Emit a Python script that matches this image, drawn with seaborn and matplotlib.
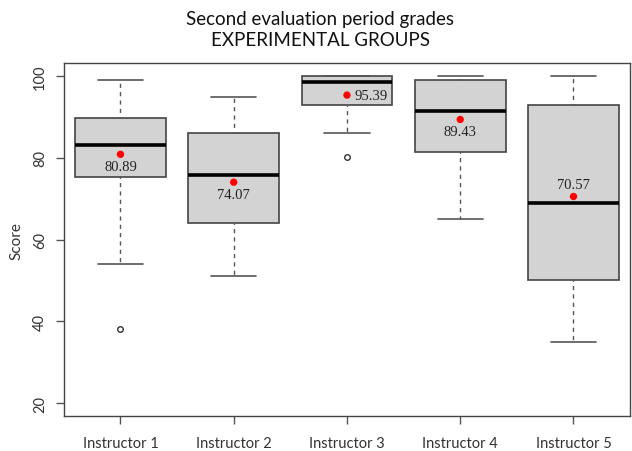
import numpy as np
import matplotlib
matplotlib.use("Agg")
from matplotlib import pyplot as plt
import seaborn as sns

# values
instructors = ["Instructor 1", "Instructor 2", "Instructor 3", "Instructor 4", "Instructor 5"]
whisker_low = [54, 51, 86, 65, 35]
q1 = [75.3, 64, 93, 81.5, 50.2]
medians = [83.2, 75.8, 98.7, 91.5, 69]
q3 = [89.9, 86.2, 100, 99, 93]
whisker_high = [99, 95, 100, 100, 100]
outliers = [[38.2], [], [80.2], [], []]
means = [80.89, 74.07, 95.39, 89.43, 70.57]

sns.set_style("white")
plt.rcParams["font.family"] = ["Lato", "DejaVu Sans"]

fig = plt.figure(figsize=(6.32, 4.52), dpi=100)
ax = fig.add_axes([0.101, 0.077, 0.896, 0.781])

stats = []
for i, name in enumerate(instructors):
    stats.append(dict(label=name, med=medians[i], q1=q1[i], q3=q3[i],
                      whislo=whisker_low[i], whishi=whisker_high[i],
                      fliers=outliers[i]))

pos = np.arange(1, len(instructors) + 1)
ax.bxp(stats, positions=pos, widths=0.8, patch_artist=True, showfliers=True,
       boxprops=dict(facecolor="#d3d3d3", edgecolor="#444444", linewidth=1.2),
       medianprops=dict(color="black", linewidth=2.6),
       whiskerprops=dict(color="#555555", linestyle=(2, (3, 3)), linewidth=1.0),
       capprops=dict(color="#555555", linewidth=1.2),
       capwidths=0.4,
       flierprops=dict(marker="o", markersize=4, markerfacecolor="none",
                       markeredgecolor="#333333", markeredgewidth=1.0))

sns.scatterplot(x=pos, y=means, color="red", s=28, edgecolor="none", ax=ax, zorder=5)

# mean labels: below, below, right, below, above
offsets = [(0, -3.0, "center", "center"), (0, -3.0, "center", "center"),
           (0.07, 0, "left", "center"), (0, -3.0, "center", "center"),
           (0, 3.0, "center", "center")]
for x, m, (dx, dy, ha, va) in zip(pos, means, offsets):
    ax.text(x + dx, m + dy, f"{m:.2f}", ha=ha, va=va, fontsize=10.5,
            family=["Liberation Serif"], color="#222222", zorder=6)

ax.set_xlim(0.5, 5.5)
ax.set_ylim(16.8, 103.2)
ax.set_yticks([20, 40, 60, 80, 100])
ax.set_xticks(pos)
ax.set_xticklabels(instructors, fontsize=10.5, color="#333333")
for lab in ax.get_yticklabels():
    lab.set_rotation(90)
    lab.set_va("center")
    lab.set_fontsize(10.5)
    lab.set_color("#333333")
ax.tick_params(axis="both", which="both", direction="out", length=6,
               width=1, color="#555555", bottom=True, left=True)
ax.tick_params(axis="x", pad=8)
ax.tick_params(axis="y", pad=6)
ax.set_ylabel("Score", fontsize=11, color="#333333", labelpad=7)
for sp in ax.spines.values():
    sp.set_color("#444444")
    sp.set_linewidth(1.0)

fig.suptitle("Second evaluation period grades\nEXPERIMENTAL GROUPS",
             x=0.507, y=0.975, fontsize=13.5, color="#111111", linespacing=1.3)

fig.savefig("out.png", dpi=100)
